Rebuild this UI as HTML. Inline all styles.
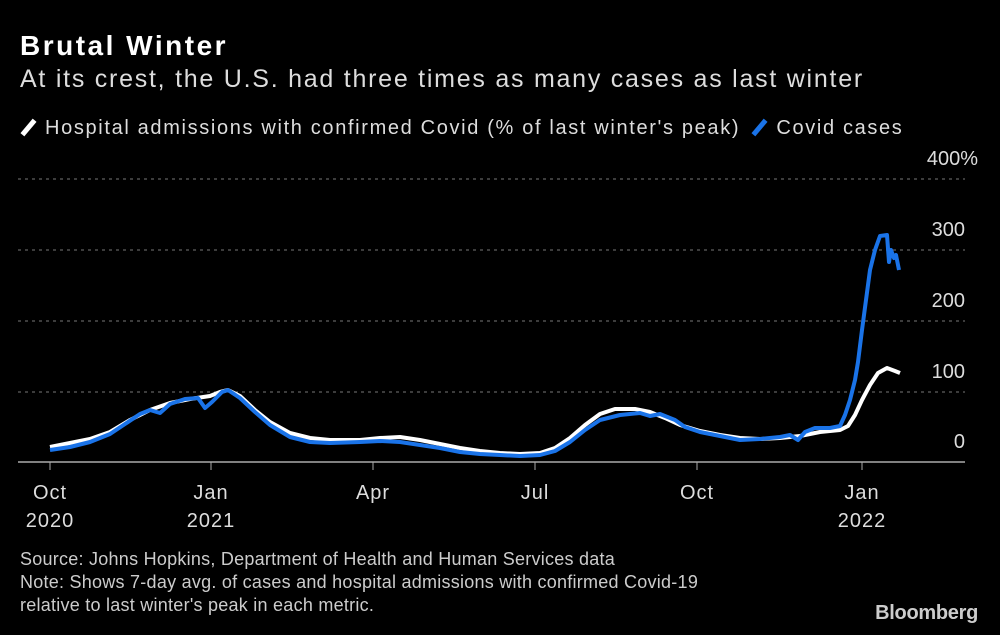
<!DOCTYPE html>
<html><head><style>
body{margin:0;width:1000px;height:635px;background:#000;overflow:hidden;font-family:"Liberation Sans",sans-serif;color:#fff}
.t{position:absolute;white-space:nowrap}
</style></head><body>
<div class="t" style="left:20px;top:30px;font-size:28px;font-weight:bold;letter-spacing:2.5px">Brutal Winter</div>
<div class="t" style="left:20px;top:65px;font-size:25px;color:#ddd;letter-spacing:1.75px">At its crest, the U.S. had three times as many cases as last winter</div>
<div class="t" style="left:20px;top:117px;font-size:20px;color:#ddd;letter-spacing:1.65px"><span style="display:inline-block;width:5px;height:19px;background:#fff;transform:rotate(40deg);margin:0 14px -3px 6px"></span>Hospital admissions with confirmed Covid (% of last winter's peak) <span style="display:inline-block;width:5px;height:19px;background:#1a73e8;transform:rotate(40deg);margin:0 14px -3px 10px"></span>Covid cases</div>
<svg width="1000" height="635" style="position:absolute;left:0;top:0">
<g stroke="#777" stroke-dasharray="3,4" stroke-width="1">
<line x1="18" x2="965" y1="179" y2="179"/><line x1="18" x2="965" y1="250" y2="250"/><line x1="18" x2="965" y1="321" y2="321"/><line x1="18" x2="965" y1="392" y2="392"/></g>
<line x1="18" x2="965" y1="462" y2="462" stroke="#aaa" stroke-width="1.5"/>
<g stroke="#aaa"><line x1="50" x2="50" y1="462" y2="470"/><line x1="211" x2="211" y1="462" y2="470"/><line x1="373" x2="373" y1="462" y2="470"/><line x1="535" x2="535" y1="462" y2="470"/><line x1="697" x2="697" y1="462" y2="470"/><line x1="862" x2="862" y1="462" y2="470"/></g>
<g fill="#ddd" font-size="20" text-anchor="end" font-family="Liberation Sans,sans-serif">
<text x="978" y="165">400%</text><text x="965" y="236">300</text><text x="965" y="307">200</text><text x="965" y="378">100</text><text x="965" y="448">0</text></g>
<g fill="#ddd" font-size="20" text-anchor="middle" font-family="Liberation Sans,sans-serif" letter-spacing="1">
<text x="50" y="499">Oct</text><text x="50" y="527">2020</text><text x="211" y="499">Jan</text><text x="211" y="527">2021</text><text x="373" y="499">Apr</text><text x="535" y="499">Jul</text><text x="697" y="499">Oct</text><text x="862" y="499">Jan</text><text x="862" y="527">2022</text></g>
<polyline fill="none" stroke="#fff" stroke-width="4" stroke-linejoin="round" points="50,447 70,443 90,439 110,432 130,420 150,410 170,403 190,399 210,396 220,392 228,390 240,396 255,410 270,422 290,433 310,438 330,440 360,440 380,438 400,437 420,440 440,444 460,448 480,451 500,453 520,454 540,453 555,448 570,438 585,425 600,414 615,409 635,409 650,412 665,418 680,425 700,431 720,435 740,438 760,439 780,438 800,436 820,432 840,430 848,426 855,415 862,400 870,385 878,373 887,368 895,371 900,373"/>
<polyline fill="none" stroke="#1a73e8" stroke-width="4" stroke-linejoin="round" points="50,450 70,447 90,442 110,434 125,424 140,414 150,410 160,413 170,404 185,399 198,398 205,408 212,402 222,392 228,390 240,398 255,412 270,425 290,437 310,442 330,443 360,442 380,441 400,442 420,445 440,448 460,452 480,454 500,455 520,456 540,455 555,451 570,442 585,430 600,420 620,415 640,413 650,416 660,414 675,420 685,427 700,432 720,436 740,440 760,439 780,437 790,435 798,440 805,432 815,428 830,428 840,426 845,415 850,400 855,380 858,362 862,330 866,300 870,270 875,250 880,236 887,235 889,262 891,250 894,258 896,255 899,270"/>
</svg>
<div class="t" style="left:20px;top:548px;font-size:18px;color:#ccc;line-height:23px;letter-spacing:0.25px">Source: Johns Hopkins, Department of Health and Human Services data<br>Note: Shows 7-day avg. of cases and hospital admissions with confirmed Covid-19<br>relative to last winter's peak in each metric.</div>
<div class="t" style="right:22px;top:602px;font-size:20px;font-weight:bold;color:#ccc;letter-spacing:-0.3px">Bloomberg</div>
</body></html>
